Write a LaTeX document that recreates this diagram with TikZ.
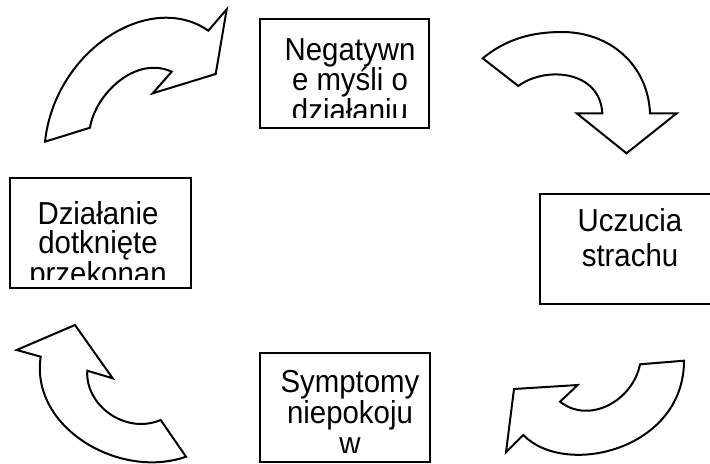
\documentclass[tikz,border=0pt]{standalone}
\usepackage{fontspec}
\setmainfont{Liberation Sans}
\usetikzlibrary{fit}
\newcommand{\tallword}[1]{\scalebox{1}[1.08]{#1}}
\begin{document}
\begin{tikzpicture}[x=0.5pt, y=-0.5pt,
  box/.style={draw, line width=1pt, inner sep=0pt},
  bentarrow/.style={draw, line width=1pt, fill=white, line join=miter},
  lbl/.style={anchor=base, inner sep=0pt, font=\fontsize{14.7}{15}\selectfont}]
  % page frame
  \fill[white] (0,0) rectangle (710,464);
  \clip (0,0) rectangle (710,464);

  % ---- boxes ----
  \node[box, fit={(260,19) (429,128)}] (b1) {};
  \node[box, fit={(540,194) (722,304)}] (b2) {};
  \node[box, fit={(260,353) (430,462)}] (b3) {};
  \node[box, fit={(10,178) (191,288)}] (b4) {};

  % ---- box texts (overflowing lines are cut at the text area) ----
  \begin{scope}
    \clip (262,21) rectangle (427,118);
    \node[lbl] (t1a) at (350,61) {\tallword{Negatywn}};
    \node[lbl] (t1b) at (350,91) {\tallword{e myśli o}};
    \node[lbl] (t1c) at (350,122) {\tallword{działaniu}};
  \end{scope}
  \node[lbl] (t2a) at (630,232) {\tallword{Uczucia}};
  \node[lbl] (t2b) at (630,266) {\tallword{strachu}};
  \begin{scope}
    \clip (262,355) rectangle (428,452);
    \node[lbl] (t3a) at (350,392) {\tallword{Symptomy}};
    \node[lbl] (t3b) at (350,423) {\tallword{niepokoju}};
    \node[lbl] (t3c) at (350,454) {\tallword{w}};
  \end{scope}
  \begin{scope}
    \clip (12,180) rectangle (189,279);
    \node[lbl] (t4a) at (98,225) {\tallword{Działanie}};
    \node[lbl] (t4b) at (98,254) {\tallword{dotknięte}};
    \node[lbl] (t4c) at (98,284) {\tallword{przekonan}};
  \end{scope}

  % ---- curved block arrows ----
  % top left
  \draw[bentarrow] (45,141.7) -- (90,127.7)
    .. controls (95,95) and (135,55) .. (171.7,71.7)
    -- (152.7,93.3) -- (215.7,74) -- (226.7,9.3) -- (208.3,30.7)
    .. controls (150,-10) and (55,50) .. (45,141.7) -- cycle;
  % top right
  \draw[bentarrow] (482.7,58.3) -- (518.3,86)
    .. controls (545,66) and (600,70) .. (602.3,113.3)
    -- (576.7,113.3) -- (626.5,153.3) -- (676.7,113.3) -- (650,113.3)
    .. controls (648,65) and (610,32) .. (562,32)
    .. controls (530,32) and (505,40) .. (482.7,58.3) -- cycle;
  % bottom right
  \draw[bentarrow] (684,360.7) -- (640,364.3)
    .. controls (633,400) and (590,425) .. (560,401.7)
    -- (577.7,385) -- (514,389) -- (506,452.3) -- (523.3,435)
    .. controls (565,478) and (684,450) .. (684,360.7) -- cycle;
  % bottom left
  \draw[bentarrow] (40.7,356.7) -- (16.7,350) -- (75,325) -- (112.7,378.3)
    -- (87.3,370.7)
    .. controls (85,405) and (125,435) .. (160.7,420)
    -- (186,456.7)
    .. controls (120,480) and (30,428) .. (40.7,356.7) -- cycle;
\end{tikzpicture}
\end{document}
